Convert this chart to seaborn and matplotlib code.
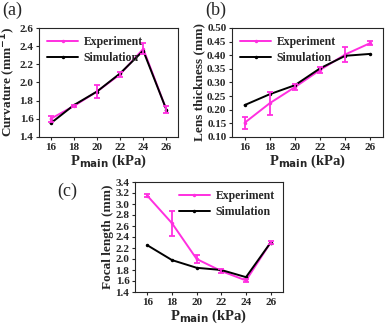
import numpy as np
import pandas as pd
import matplotlib
matplotlib.use('Agg')
import matplotlib.pyplot as plt
import seaborn as sns

sns.set_style('ticks')
plt.rcParams['font.family'] = ['Liberation Serif', 'DejaVu Serif']
plt.rcParams['font.weight'] = 'bold'
plt.rcParams['axes.labelweight'] = 'bold'

p_main = [16, 18, 20, 22, 24, 26]

# (a) curvature
curv_exp = [1.60, 1.74, 1.90, 2.09, 2.37, 1.70]
curv_err = [0.03, 0.015, 0.07, 0.03, 0.06, 0.04]
curv_sim = [1.55, 1.75, 1.90, 2.10, 2.35, 1.70]

# (b) lens thickness
thick_exp = [0.152, 0.224, 0.283, 0.346, 0.403, 0.445]
thick_err = [0.022, 0.042, 0.012, 0.012, 0.027, 0.008]
thick_sim = [0.217, 0.257, 0.290, 0.352, 0.398, 0.405]

# (c) focal length
focal_exp = [3.15, 2.65, 2.00, 1.78, 1.61, 2.30]
focal_err = [0.03, 0.23, 0.07, 0.03, 0.02, 0.02]
focal_sim = [2.25, 1.98, 1.84, 1.80, 1.67, 2.30]

pink = '#ff2fe0'

W, H = 392, 329
fig = plt.figure(figsize=(W / 100, H / 100), dpi=100)


def box(l, t, r, b):
    return [l / W, 1 - b / H, (r - l) / W, (b - t) / H]


def panel(rect, exp, err, sim, ylabel, ylim, yticks, yfmt, leg_loc):
    ax = fig.add_axes(box(*rect))
    df = pd.DataFrame({'P': p_main * 2, 'v': exp + sim,
                       'kind': ['Experiment'] * 6 + ['Simulation'] * 6})
    sns.lineplot(data=df, x='P', y='v', hue='kind',
                 palette={'Experiment': pink, 'Simulation': 'black'},
                 marker='o', markersize=2.5, markeredgewidth=0, lw=1.4, ax=ax)
    ax.errorbar(p_main, exp, yerr=err, fmt='none', ecolor=pink,
                elinewidth=1.3, capsize=2, capthick=1.3, zorder=5)
    ax.set_xlim(15, 27)
    ax.set_xticks(p_main)
    ax.set_ylim(*ylim)
    ax.set_yticks(yticks)
    ax.set_yticklabels([yfmt.format(v) for v in yticks])
    ax.set_xlabel(r'P$_{\mathbf{main}}$ (kPa)', fontsize=10.5, labelpad=1)
    ax.set_ylabel(ylabel, fontsize=9.5, labelpad=1)
    ax.tick_params(labelsize=8, length=2.5, width=0.8, pad=1.5)
    for s in ax.spines.values():
        s.set_linewidth(0.8)
    for t in ax.get_xticklabels() + ax.get_yticklabels():
        t.set_fontweight('bold')
    ax.legend(loc=leg_loc, frameon=False, fontsize=8.5, handlelength=2.6,
              borderaxespad=0.3, labelspacing=0.3, handletextpad=0.5)
    return ax


panel((39, 28, 178, 137), curv_exp, curv_err, curv_sim,
      r'Curvature (mm$^{\mathbf{-1}}$)', (1.4, 2.6),
      [1.4, 1.6, 1.8, 2.0, 2.2, 2.4, 2.6], '{:.1f}', 'upper left')
panel((232, 28, 383, 137), thick_exp, thick_err, thick_sim,
      'Lens thickness (mm)', (0.10, 0.50),
      list(np.round(np.arange(0.10, 0.501, 0.05), 2)), '{:.2f}', 'upper left')
panel((135, 182, 283, 292), focal_exp, focal_err, focal_sim,
      'Focal length (mm)', (1.4, 3.4),
      list(np.round(np.arange(1.4, 3.41, 0.2), 1)), '{:.1f}', 'upper right')

fig.text(2 / W, 1 - 2 / H, '(a)', fontsize=13, fontweight='normal', va='top')
fig.text(205 / W, 1 - 2 / H, '(b)', fontsize=13, fontweight='normal', va='top')
fig.text(57 / W, 1 - 183 / H, '(c)', fontsize=13, fontweight='normal', va='top')

fig.savefig('out.png', dpi=100)
